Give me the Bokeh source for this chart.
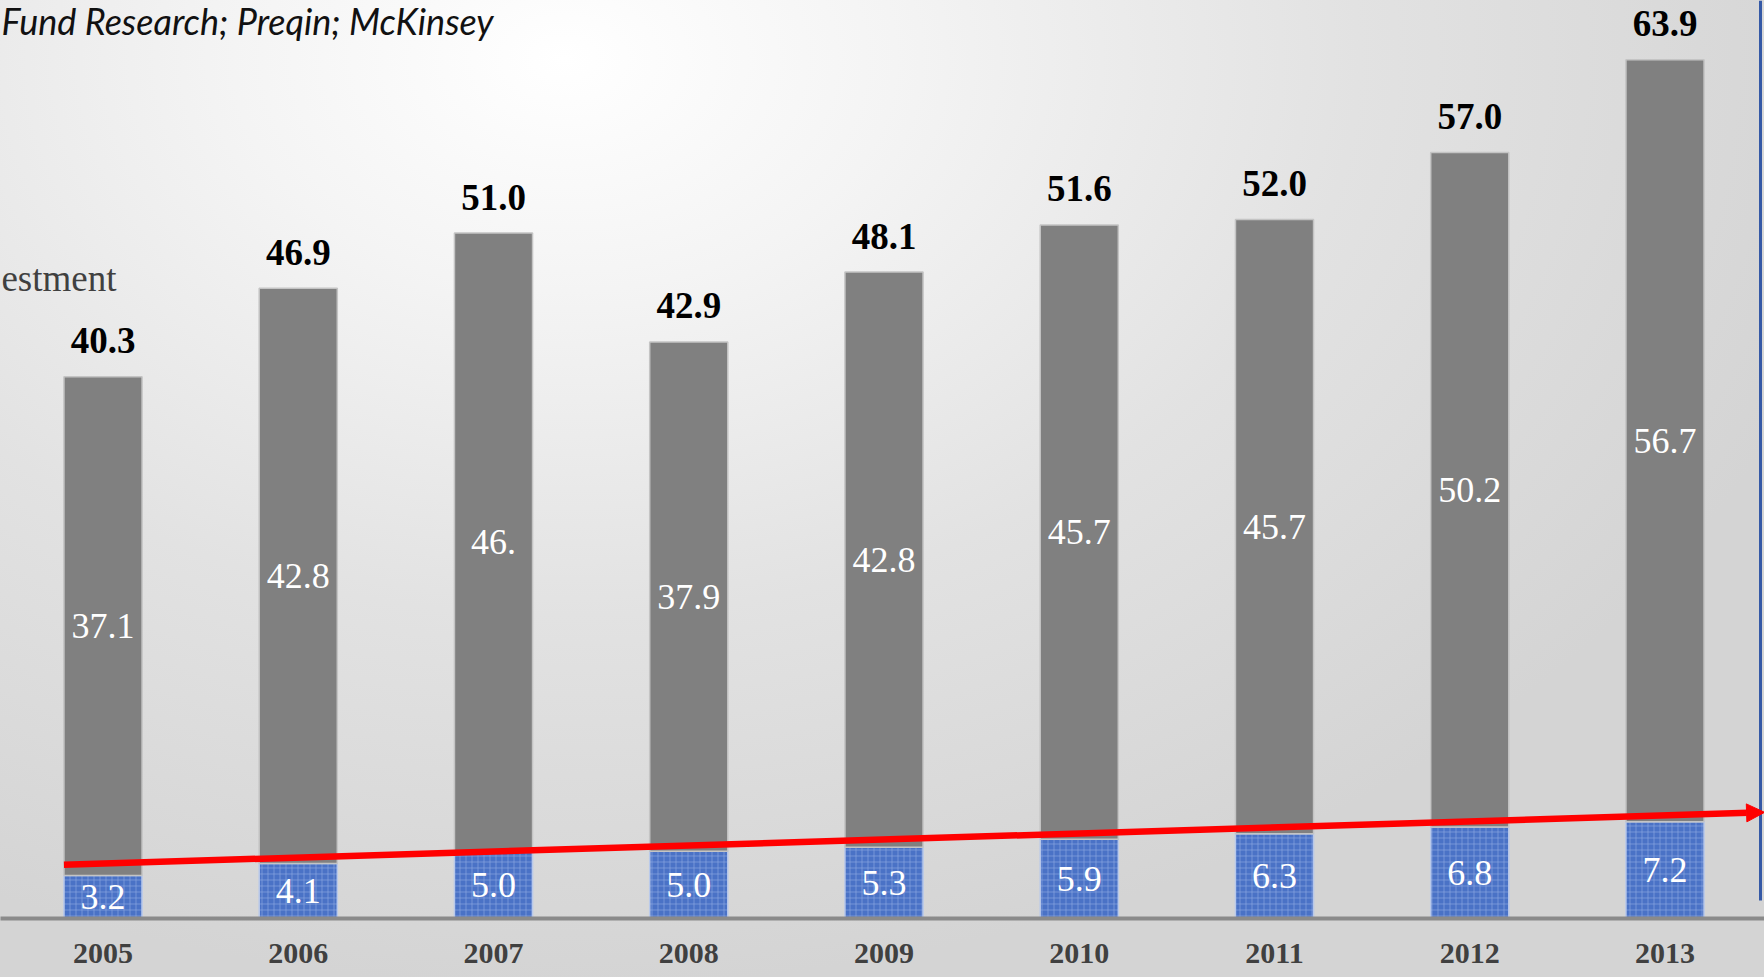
from bokeh.plotting import figure
from bokeh.models import Range1d, FixedTicker, Arrow, NormalHead, Label, ColumnDataSource
from bokeh.core.properties import value
from bokeh.embed import file_html
from bokeh.resources import INLINE

# ---- data ----
years = ["2005", "2006", "2007", "2008", "2009", "2010", "2011", "2012", "2013"]
blue_values = [3.2, 4.1, 5.0, 5.0, 5.3, 5.9, 6.3, 6.8, 7.2]
grey_values = [37.1, 42.8, 46.0, 37.9, 42.8, 45.7, 45.7, 50.2, 56.7]
grey_labels = ["37.1", "42.8", "46.", "37.9", "42.8", "45.7", "45.7", "50.2", "56.7"]
totals = [40.3, 46.9, 51.0, 42.9, 48.1, 51.6, 52.0, 57.0, 63.9]
total_labels = ["40.3", "46.9", "51.0", "42.9", "48.1", "51.6", "52.0", "57.0", "63.9"]
trend_start = (-0.2, 4.0)
trend_end = (8.51, 7.9)
source_text = "Fund Research; Preqin; McKinsey"
side_text = "estment"

# ---- layout constants ----
W, H = 1764, 977
FRAME_H = 918
PXX = 195.25          # px per category
PYY = 13.44           # px per unit
X_START = -102.5 / PXX
X_END = X_START + W / PXX
Y_TOP = FRAME_H / PYY


def dx(px):
    return X_START + px / PXX


def dy(py):
    return (FRAME_H - py) / PYY


idx = list(range(len(years)))
src = ColumnDataSource(dict(
    x=idx,
    blue=blue_values,
    grey_top=[b + g for b, g in zip(blue_values, grey_values)],
    total=totals,
    blue_mid=[b / 2 for b in blue_values],
    grey_mid=[b + g / 2 for b, g in zip(blue_values, grey_values)],
    blue_lab=["%.1f" % b for b in blue_values],
    grey_lab=grey_labels,
    total_lab=total_labels,
))

p = figure(width=W, height=H, x_range=Range1d(X_START, X_END), y_range=Range1d(0, Y_TOP),
           output_backend="svg", toolbar_location=None, y_axis_location=None,
           min_border_left=0, min_border_right=0, min_border_top=0, min_border_bottom=H - FRAME_H)
p.background_fill_alpha = 0
p.border_fill_alpha = 0
p.outline_line_color = None
p.xgrid.visible = False
p.ygrid.visible = False
p.styles = {"background": "radial-gradient(ellipse 75% 95% at 32% 6%, #ffffff 0%, #f4f4f4 25%, #e2e2e2 60%, #d4d4d4 100%)"}

# bars
p.vbar(x="x", bottom=0, top="blue", width=0.40, source=src, fill_color="#4a72c6",
       line_color="#b9c9ea", line_width=1.5, hatch_pattern="+", hatch_color="#8eaae2",
       hatch_scale=6, hatch_weight=1, hatch_alpha=0.6)
p.vbar(x="x", bottom="blue", top="grey_top", width=0.40, source=src, fill_color="#808080",
       line_color="#c4c4c4", line_width=1.5)

# value labels
p.text(x="x", y="blue_mid", text="blue_lab", source=src, text_font=value("Liberation Serif"),
       text_font_size="36px", text_color="white", text_align="center", text_baseline="middle")
p.text(x="x", y="grey_mid", text="grey_lab", source=src, text_font=value("Liberation Serif"),
       text_font_size="36px", text_color="white", text_align="center", text_baseline="middle")
p.text(x="x", y="total", text="total_lab", source=src, text_font=value("Liberation Serif"),
       text_font_size="37px", text_font_style="bold", text_color="black", text_align="center",
       text_baseline="middle", y_offset=-36)

# trend arrow
p.add_layout(Arrow(end=NormalHead(size=18, fill_color="#ff0000", line_color="#ff0000"),
                   x_start=trend_start[0], y_start=trend_start[1],
                   x_end=trend_end[0], y_end=trend_end[1],
                   line_color="#ff0000", line_width=6.5))

# right border of a box
p.segment(x0=[dx(1760)], y0=[dy(900)], x1=[dx(1760)], y1=[Y_TOP], line_color="#3559a6", line_width=3)

# texts
p.add_layout(Label(x=dx(1), y=dy(20), text=source_text, text_font="Lato",
                   text_font_style="italic", text_font_size="36px", text_color="#111111",
                   text_align="left", text_baseline="alphabetic"))
p.add_layout(Label(x=dx(116), y=dy(278), text=side_text, text_font="Liberation Serif",
                   text_font_size="37px", text_color="#404040",
                   text_align="right", text_baseline="alphabetic"))

# x axis
ax = p.xaxis[0]
ax.ticker = FixedTicker(ticks=idx)
ax.major_label_overrides = {i: y for i, y in zip(idx, years)}
ax.axis_line_color = "#8a8a8a"
ax.axis_line_width = 4
ax.major_tick_line_color = None
ax.minor_tick_line_color = None
ax.major_tick_out = 0
ax.major_label_standoff = 25
ax.major_label_text_font = "Liberation Serif"
ax.major_label_text_font_style = "bold"
ax.major_label_text_font_size = "30px"
ax.major_label_text_color = "#404040"

open("out.html", "w").write(file_html(p, INLINE))
